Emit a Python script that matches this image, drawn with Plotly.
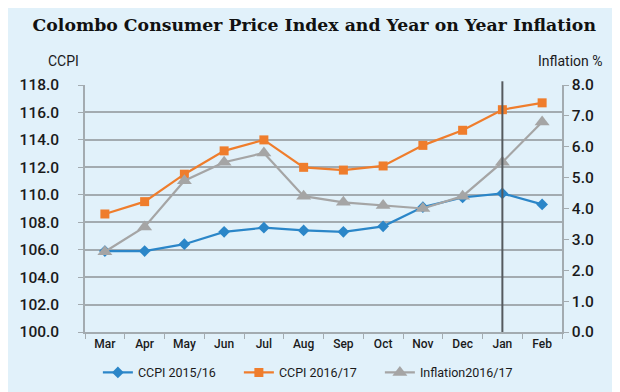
import plotly.graph_objects as go

months = ["Mar", "Apr", "May", "Jun", "Jul", "Aug", "Sep", "Oct", "Nov", "Dec", "Jan", "Feb"]
ccpi_2015_16 = [105.9, 105.9, 106.4, 107.3, 107.6, 107.4, 107.3, 107.7, 109.1, 109.8, 110.1, 109.3]
ccpi_2016_17 = [108.6, 109.5, 111.5, 113.2, 114.0, 112.0, 111.8, 112.1, 113.6, 114.7, 116.2, 116.7]
inflation_2016_17 = [2.6, 3.4, 4.9, 5.5, 5.8, 4.4, 4.2, 4.1, 4.0, 4.4, 5.5, 6.8]

left_ticks = [100 + 2 * i for i in range(10)]
right_ticks = list(range(0, 9))

BG = "#e1f1fa"
GRID = "#a3abb0"
TXT = "#1a1a1a"
FONT = "Roboto"

fig = go.Figure()
fig.add_trace(go.Scatter(x=months, y=ccpi_2015_16, name="CCPI 2015/16", mode="lines+markers",
                         line=dict(color="#2b86c8", width=2.2),
                         marker=dict(symbol="diamond", size=9, color="#2b86c8")))
fig.add_trace(go.Scatter(x=months, y=ccpi_2016_17, name="CCPI 2016/17", mode="lines+markers",
                         line=dict(color="#ef7d2c", width=2.2),
                         marker=dict(symbol="square", size=9, color="#ef7d2c")))
fig.add_trace(go.Scatter(x=months, y=inflation_2016_17, name="Inflation2016/17", mode="lines+markers",
                         yaxis="y2",
                         line=dict(color="#a5a5a5", width=2.2),
                         marker=dict(symbol="triangle-up", size=13, color="#a5a5a5")))

fig.add_shape(type="line", xref="x", yref="paper", x0="Jan", x1="Jan", y0=0, y1=1.015,
              line=dict(color="#555a5e", width=2))

fig.update_layout(
    width=620, height=392,
    paper_bgcolor=BG, plot_bgcolor=BG,
    margin=dict(l=77, r=66, t=77, b=61),
    showlegend=True,
    legend=dict(orientation="h", x=0.027, xanchor="left", y=-0.165, yanchor="middle",
                font=dict(family=FONT, size=12.5, color=TXT), bgcolor="rgba(0,0,0,0)",
                itemwidth=30, entrywidth=96),
    title=dict(text="<b>Colombo Consumer Price Index and Year on Year Inflation</b>",
               x=0.494, xanchor="center", y=0.958, yanchor="middle",
               font=dict(family="DejaVu Serif", size=17.3, color="#111111")),
    xaxis=dict(type="category", range=[-0.5, 11.5], showgrid=False, tickson="boundaries",
               ticks="outside", ticklen=5, tickcolor=GRID, showline=True, linecolor=GRID,
               linewidth=1.5, tickfont=dict(family=FONT, size=12, color=TXT, weight=500),
               fixedrange=True),
    yaxis=dict(range=[100, 118], tickvals=left_ticks,
               ticktext=[f"{v:.1f}" for v in left_ticks],
               showgrid=True, gridcolor=GRID, gridwidth=1.5, zeroline=False,
               showline=True, linecolor=GRID, linewidth=1.5,
               ticks="outside", ticklen=5, tickcolor=GRID, ticklabelstandoff=16,
               tickfont=dict(family=FONT, size=15.5, color=TXT, weight=500)),
    yaxis2=dict(range=[0, 8], tickvals=right_ticks,
                ticktext=[f"{v:.1f}" for v in right_ticks],
                overlaying="y", side="right", showgrid=False, zeroline=False,
                showline=True, linecolor=GRID, linewidth=1.5,
                ticks="outside", ticklen=5, tickcolor=GRID,
                tickfont=dict(family=FONT, size=15.5, color=TXT, weight=500)),
)

fig.add_annotation(text="CCPI", xref="paper", yref="paper", x=-0.046, y=1.098,
                   xanchor="center", yanchor="middle", showarrow=False,
                   font=dict(family=FONT, size=14, color=TXT))
fig.add_annotation(text="Inflation %", xref="paper", yref="paper", x=1.017, y=1.098,
                   xanchor="center", yanchor="middle", showarrow=False,
                   font=dict(family=FONT, size=14, color=TXT))

fig.write_html("out.html")
